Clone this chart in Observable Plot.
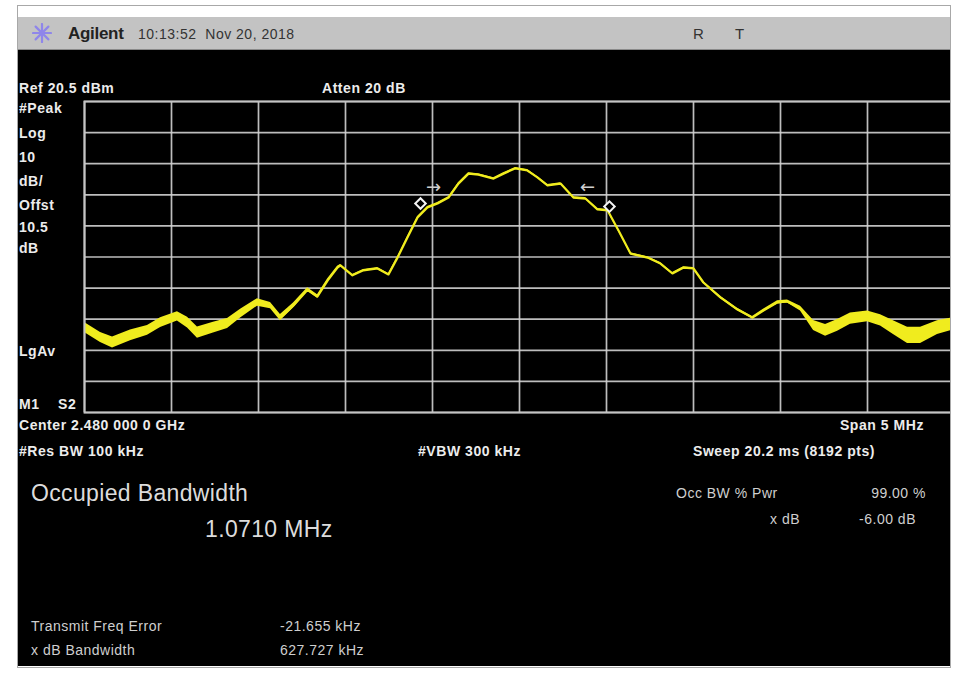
<!DOCTYPE html>
<html>
<head>
<meta charset="utf-8">
<script src="https://cdn.jsdelivr.net/npm/d3@7"></script>
<script src="https://cdn.jsdelivr.net/npm/@observablehq/plot@0.6"></script>
<style>
  html, body { margin: 0; padding: 0; background: #fff; }
  #page { position: relative; width: 953px; height: 675px; overflow: hidden; background: #fff; font-family: "Liberation Sans", Arial, sans-serif; }
  .abs { position: absolute; line-height: 1; white-space: pre; }
  .lab { color: #ececec; font-weight: bold; letter-spacing: 0.55px; }
  .info { color: #cfcfcf; letter-spacing: 0.5px; }
  .big { color: #dcdcdc; letter-spacing: 0.35px; }
</style>
</head>
<body>
<div id="page">
  <!-- outer frame -->
  <div class="abs" style="left:17px;top:5px;width:932px;height:661px;border:1px solid #a8a8a8;background:#fff;"></div>
  <!-- title bar -->
  <div class="abs" style="left:18px;top:17px;width:932px;height:32px;background:#c3c3c3;border-bottom:1px solid #8a8a8a;"></div>
  <!-- black panel -->
  <div id="panel" class="abs" style="left:18px;top:50px;width:932px;height:616px;background:#000;overflow:hidden;"></div>

  <!-- title bar texts -->
  <svg class="abs" style="left:32px;top:23px;" width="20" height="20" viewBox="0 0 20 20">
    <g stroke="#8f86ea" stroke-width="2.2" stroke-linecap="round">
      <line x1="10" y1="1" x2="10" y2="19"/><line x1="1" y1="10" x2="19" y2="10"/>
      <line x1="3.6" y1="3.6" x2="16.4" y2="16.4"/><line x1="16.4" y1="3.6" x2="3.6" y2="16.4"/>
    </g>
  </svg>
  <div class="abs" style="left:68px;top:25px;font-size:17px;font-weight:bold;color:#222;letter-spacing:-0.3px;">Agilent</div>
  <div class="abs" style="left:138px;top:27px;font-size:14px;color:#333;letter-spacing:0.5px;">10:13:52  Nov 20, 2018</div>
  <div class="abs" style="left:693px;top:26px;font-size:15px;color:#333;">R</div>
  <div class="abs" style="left:735px;top:26px;font-size:15px;color:#333;">T</div>
</div>
<script>
// ---- data ----
// frequency offset from centre (MHz) and trace level (dBm); noise = half-width of the noisy band (dB)
const freqOffset = [-2.5,-2.408,-2.339,-2.236,-2.138,-2.063,-1.966,-1.908,-1.851,-1.759,-1.678,-1.603,-1.506,-1.431,-1.374,-1.299,-1.218,-1.161,-1.103,-1.046,-1.029,-0.960,-0.897,-0.816,-0.753,-0.701,-0.644,-0.586,-0.529,-0.471,-0.408,-0.351,-0.293,-0.236,-0.149,-0.092,-0.023,0.046,0.103,0.161,0.236,0.310,0.379,0.448,0.506,0.569,0.638,0.736,0.810,0.879,0.943,1.000,1.057,1.155,1.253,1.339,1.402,1.483,1.540,1.615,1.690,1.759,1.828,1.902,2.000,2.075,2.149,2.230,2.305,2.402,2.5];
const level = [-52.2,-55.4,-57.0,-54.7,-53.1,-50.6,-48.6,-50.6,-53.8,-52.2,-50.9,-47.7,-44.1,-45.1,-49.0,-45.1,-40.0,-42.2,-37.1,-32.9,-32.2,-35.4,-33.8,-33.2,-35.1,-29.7,-23.2,-16.8,-13.6,-12.3,-10.4,-5.9,-2.7,-3.0,-4.3,-2.7,-1.0,-1.7,-3.9,-6.5,-5.9,-10.4,-10.7,-14.2,-14.5,-21.0,-28.4,-29.7,-31.6,-34.8,-32.9,-33.2,-37.7,-42.5,-46.4,-49.0,-46.7,-44.1,-43.8,-46.1,-51.5,-53.1,-51.5,-49.3,-48.6,-49.9,-52.2,-54.7,-54.7,-52.2,-50.9];
const noise = [1.6,1.6,1.8,1.7,1.6,1.6,1.5,1.7,1.8,1.7,1.6,1.4,1.2,1.0,1.0,0.8,0.6,0.6,0.5,0.4,0.3,0.3,0.3,0.3,0.3,0.3,0.3,0.3,0.3,0.3,0.3,0.3,0.3,0.3,0.3,0.3,0.3,0.3,0.3,0.3,0.3,0.3,0.3,0.3,0.3,0.3,0.3,0.3,0.3,0.3,0.3,0.3,0.3,0.4,0.4,0.4,0.4,0.5,0.5,0.8,1.6,1.9,1.9,1.8,1.7,1.8,2.2,2.6,2.6,2.2,2.0];
// occupied-bandwidth edge markers (diamonds) and x dB arrows
const obwMarkerX = [-0.569, 0.517];
const obwMarkerY = [-12.3, -13.3];
const arrowX = [-0.494, 0.391];
const arrowY = [-7.2, -7.2];
const arrowText = ["→", "←"];
// grid divisions
const xTicks = [-2.5,-2,-1.5,-1,-0.5,0,0.5,1,1.5,2,2.5];
const yTicks = [20.5,10.5,0.5,-9.5,-19.5,-29.5,-39.5,-49.5,-59.5,-69.5,-79.5];

const trace = freqOffset.map((f, i) => ({f, v: level[i], n: noise[i]}));
const markers = obwMarkerX.map((f, i) => ({f, v: obwMarkerY[i]}));
const arrows = arrowX.map((f, i) => ({f, v: arrowY[i], t: arrowText[i]}));

const yellow = "#f0ec1e";

const chart = Plot.plot({
  width: 872,
  height: 313,
  marginLeft: 1, marginRight: 1, marginTop: 1, marginBottom: 1,
  style: {background: "transparent", overflow: "visible"},
  x: {domain: [-2.5, 2.5], axis: null},
  y: {domain: [-79.5, 20.5], axis: null},
  marks: [
    Plot.gridX(xTicks, {stroke: "#d2d2d2", strokeOpacity: 0.9, strokeWidth: 1.7}),
    Plot.gridY(yTicks, {stroke: "#d2d2d2", strokeOpacity: 0.9, strokeWidth: 1.7}),
    Plot.areaY(trace, {x: "f", y1: d => d.v - d.n, y2: d => d.v + d.n, fill: yellow, clip: true}),
    Plot.line(trace, {x: "f", y: "v", stroke: yellow, strokeWidth: 2.2, clip: true}),
    Plot.dot(markers, {x: "f", y: "v", symbol: "square", rotate: 45, r: 4.2, stroke: "#f4f4f4", fill: "#000", strokeWidth: 2}),
    Plot.text(arrows, {x: "f", y: "v", text: "t", fill: "#cfcfcf", fontSize: 18, fontFamily: "DejaVu Sans"}),
    Plot.frame({stroke: "#c4c4c4", strokeWidth: 2})
  ]
});
chart.style.position = "absolute";
chart.style.left = "65px";   // 83 - 18
chart.style.top = "50px";    // 100 - 50
document.getElementById("panel").appendChild(chart);

// ---- annotation texts (instrument screen) ----
const page = document.getElementById("page");
function put(text, x, yc, cls, size, align) {
  const d = document.createElement("div");
  d.className = "abs " + cls;
  d.textContent = text;
  d.style.fontSize = size + "px";
  d.style.top = (yc - size * 0.55) + "px";
  if (align === "right") { d.style.right = (953 - x) + "px"; }
  else { d.style.left = x + "px"; }
  page.appendChild(d);
}
const leftLabels = ["#Peak", "Log", "10", "dB/", "Offst", "10.5", "dB"];
const leftLabelY = [109, 134, 158, 182, 206, 228, 249];
leftLabels.forEach((t, i) => put(t, 19, leftLabelY[i], "lab", 14));
put("Ref 20.5 dBm", 19, 89, "lab", 14);
put("Atten 20 dB", 322, 89, "lab", 14);
put("LgAv", 19, 352, "lab", 14);
put("M1", 19, 405, "lab", 14);
put("S2", 58, 405, "lab", 14);
put("Center 2.480 000 0 GHz", 19, 426, "lab", 14);
put("Span 5 MHz", 924, 426, "lab", 14, "right");
put("#Res BW 100 kHz", 19, 452, "lab", 14);
put("#VBW 300 kHz", 418, 452, "lab", 14);
put("Sweep 20.2 ms (8192 pts)", 693, 452, "lab", 14);
put("Occupied Bandwidth", 31, 495, "big", 23);
put("1.0710 MHz", 205, 531, "big", 23);
put("Occ BW % Pwr", 676, 494, "info", 14);
put("99.00 %", 926, 494, "info", 14, "right");
put("x dB", 770, 520, "info", 14);
put("-6.00 dB", 916, 520, "info", 14, "right");
put("Transmit Freq Error", 31, 627, "info", 14);
put("-21.655 kHz", 280, 627, "info", 14);
put("x dB Bandwidth", 31, 651, "info", 14);
put("627.727 kHz", 280, 651, "info", 14);
</script>
</body>
</html>
